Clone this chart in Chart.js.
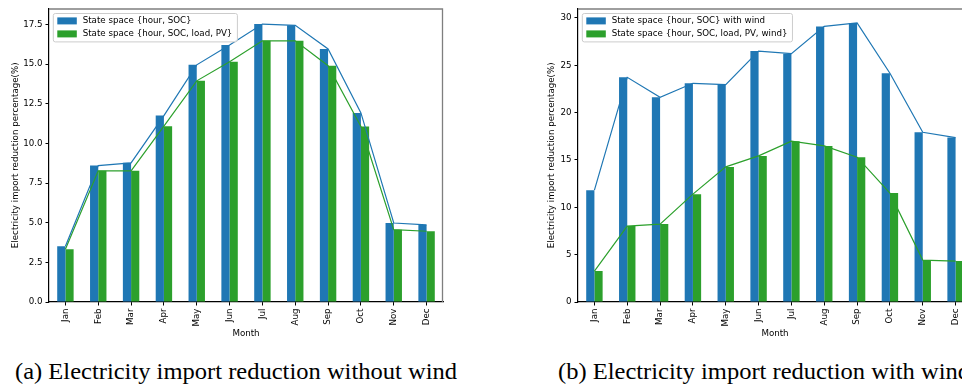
<!DOCTYPE html>
<html>
<head>
<meta charset="utf-8">
<script src="https://cdn.jsdelivr.net/npm/chart.js@4/dist/chart.umd.min.js"></script>
<style>
  html, body { margin: 0; padding: 0; background: #fff; overflow: hidden; width: 962px; height: 386px; }
  .panel { position: absolute; top: 0; width: 480px; height: 345px; }
  .caption { position: absolute; top: 360.5px; font-family: "Liberation Serif", serif; font-size: 22.5px;
             line-height: 22.5px; white-space: nowrap; color: #000;
             transform: scaleX(1.09); transform-origin: 0 0; }
</style>
</head>
<body>
<div class="panel" style="left:0"><canvas id="noWind" width="480" height="345"></canvas></div>
<div class="panel" style="left:529px"><canvas id="withWind" width="480" height="345"></canvas></div>
<div class="caption" style="left:15px">(a) Electricity import reduction without wind</div>
<div class="caption" style="left:558px">(b) Electricity import reduction with wind</div>
<script>
// Months on the x axis
const months = ['Jan', 'Feb', 'Mar', 'Apr', 'May', 'Jun', 'Jul', 'Aug', 'Sep', 'Oct', 'Nov', 'Dec'];

// Monthly import reduction (%) without wind
const noWindBaseName = 'State space {hour, SOC}';
const noWindBase = [3.52, 8.60, 8.77, 11.75, 14.95, 16.20, 17.52, 17.44, 15.95, 11.92, 4.98, 4.86];
const noWindFullName = 'State space {hour, SOC, load, PV}';
const noWindFull = [3.33, 8.27, 8.27, 11.08, 13.94, 15.14, 16.46, 16.46, 14.89, 11.06, 4.56, 4.46];

// Monthly import reduction (%) with wind
const windBaseName = 'State space {hour, SOC} with wind';
const windBase = [11.81, 23.73, 21.62, 23.10, 22.96, 26.50, 26.23, 29.11, 29.47, 24.16, 17.93, 17.37];
const windFullName = 'State space {hour, SOC, load, PV, wind}';
const windFull = [3.27, 8.02, 8.23, 11.39, 14.27, 15.43, 16.98, 16.49, 15.30, 11.50, 4.43, 4.32];

// Y tick values and their labels
const noWindTicks = [0, 2.5, 5, 7.5, 10, 12.5, 15, 17.5];
const noWindTickLabels = ['0.0', '2.5', '5.0', '7.5', '10.0', '12.5', '15.0', '17.5'];
const windTicks = [0, 5, 10, 15, 20, 25, 30];
const windTickLabels = ['0', '5', '10', '15', '20', '25', '30'];

const BLUE = '#1f77b4';
const GREEN = '#2ca02c';
const FONT = 'DejaVu Sans';
const FS = 8.7;

Chart.defaults.font.family = FONT;
Chart.defaults.font.size = FS;
Chart.defaults.color = '#000';

// Draws the grey top/right frame and the boxed legend inside the plot area
const frameAndLegend = {
  id: 'frameAndLegend',
  afterDraw(chart) {
    const { ctx, chartArea: a } = chart;
    ctx.save();
    ctx.strokeStyle = '#7f7f7f';
    ctx.lineWidth = 1.3;
    ctx.beginPath();
    ctx.moveTo(a.left, a.top + 0.5);
    ctx.lineTo(a.right - 0.5, a.top + 0.5);
    ctx.lineTo(a.right - 0.5, a.bottom);
    ctx.stroke();

    const items = chart.data.datasets.filter(d => d.type === 'bar');
    ctx.font = FS + 'px "' + FONT + '"';
    const boxX = a.left + 4.3, boxY = a.top + 5;
    const textX = boxX + 29.4;
    const maxW = Math.max(...items.map(d => ctx.measureText(d.label).width));
    const boxW = textX + maxW + 5 - boxX;
    const boxH = 28.4;
    const r = 2;
    ctx.beginPath();
    ctx.moveTo(boxX + r, boxY);
    ctx.arcTo(boxX + boxW, boxY, boxX + boxW, boxY + boxH, r);
    ctx.arcTo(boxX + boxW, boxY + boxH, boxX, boxY + boxH, r);
    ctx.arcTo(boxX, boxY + boxH, boxX, boxY, r);
    ctx.arcTo(boxX, boxY, boxX + boxW, boxY, r);
    ctx.closePath();
    ctx.fillStyle = 'rgba(255,255,255,0.8)';
    ctx.fill();
    ctx.strokeStyle = '#cccccc';
    ctx.lineWidth = 1;
    ctx.stroke();

    items.forEach((d, i) => {
      const cy = boxY + 7.4 + i * 13;
      ctx.fillStyle = d.backgroundColor;
      ctx.fillRect(boxX + 4, cy - 3.5, 19.5, 7);
      ctx.fillStyle = '#000';
      ctx.textBaseline = 'middle';
      ctx.textAlign = 'left';
      ctx.fillText(d.label, textX, cy);
    });
    ctx.restore();
  }
};

function makeChart(id, baseName, baseVals, fullName, fullVals, ticks, tickLabels, yMax, titlePad) {
  return new Chart(document.getElementById(id), {
    type: 'bar',
    data: {
      labels: months,
      datasets: [
        { type: 'line', data: baseVals, borderColor: BLUE, borderWidth: 1.2, pointRadius: 0,
          tension: 0, fill: false, order: 0 },
        { type: 'line', data: fullVals, borderColor: GREEN, borderWidth: 1.2, pointRadius: 0,
          tension: 0, fill: false, order: 0 },
        { type: 'bar', label: baseName, data: baseVals, backgroundColor: BLUE, borderWidth: 0,
          categoryPercentage: 0.5, barPercentage: 1.0, order: 1 },
        { type: 'bar', label: fullName, data: fullVals, backgroundColor: GREEN, borderWidth: 0,
          categoryPercentage: 0.5, barPercentage: 1.0, order: 1 }
      ]
    },
    options: {
      responsive: false,
      animation: false,
      events: [],
      layout: { padding: { left: 0, top: 8.5, right: 37, bottom: 0 }, autoPadding: false },
      plugins: { legend: { display: false }, tooltip: { enabled: false } },
      scales: {
        x: {
          type: 'category',
          offset: true,
          afterFit(s) { s.height = 43; },
          grid: { offset: false, drawOnChartArea: false, drawTicks: true, tickLength: 3.5,
                  color: '#000', lineWidth: 1 },
          border: { display: true, color: '#000', width: 1.2 },
          ticks: { minRotation: 90, maxRotation: 90, autoSkip: false, padding: 3, color: '#000',
                   font: { size: FS } },
          title: { display: true, text: 'Month', color: '#000', font: { size: FS },
                   padding: { top: 0, bottom: 6.1 } }
        },
        y: {
          min: 0,
          max: yMax,
          afterFit(s) { s.width = 49; },
          afterBuildTicks(s) { s.ticks = ticks.map(v => ({ value: v })); },
          grid: { drawOnChartArea: false, drawTicks: true, tickLength: 3.5, color: '#000', lineWidth: 1 },
          border: { display: true, color: '#000', width: 1.2 },
          ticks: { padding: 3, color: '#000', font: { size: FS },
                   callback: (v, i) => tickLabels[i] },
          title: { display: true, text: 'Electricity import reduction percentage(%)', color: '#000',
                   font: { size: FS }, padding: { top: titlePad, bottom: 0 } }
        }
      }
    },
    plugins: [frameAndLegend]
  });
}

makeChart('noWind', noWindBaseName, noWindBase, noWindFullName, noWindFull,
          noWindTicks, noWindTickLabels, 18.5, 10.3);
makeChart('withWind', windBaseName, windBase, windFullName, windFull,
          windTicks, windTickLabels, 31.0, 17.6);
</script>
</body>
</html>
